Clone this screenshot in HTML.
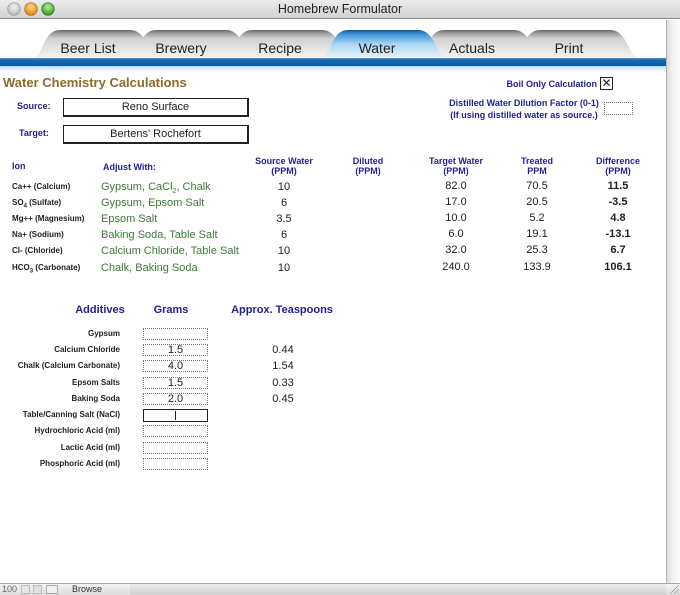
<!DOCTYPE html>
<html><head><meta charset="utf-8"><style>
*{margin:0;padding:0;box-sizing:border-box}
body{width:680px;height:595px;overflow:hidden;background:#fff;font-family:"Liberation Sans",Arial,sans-serif;position:relative}
.a{position:absolute;white-space:nowrap}
.c{text-align:center}
.r{text-align:right}
.nv{color:#23238f;font-weight:bold}
.h{font-size:9px;line-height:10px;color:#23238f;font-weight:bold;text-align:center;width:100px}
.ion{font-size:8px;line-height:10px;font-weight:bold;color:#222;left:12px}
.adj{font-size:11px;line-height:12px;color:#3d7a35;left:101px}
.num{font-size:11px;line-height:12px;color:#222;width:60px;text-align:center}
.b{font-weight:bold}
.lab{font-size:8px;line-height:10px;font-weight:bold;color:#222;width:120px;text-align:right;left:0}
.box{position:absolute;left:143px;width:65px;height:12px;border:1px dotted #777;font-size:11px;line-height:10px;text-align:center;color:#222}
.tsp{font-size:11px;line-height:12px;color:#222;left:253px;width:60px;text-align:center}
.sb{position:absolute;left:63px;width:186px;height:19px;border:1px solid #222;border-right-width:2px;border-bottom-width:2px;font-size:11px;line-height:16px;color:#222;text-align:center}
</style></head><body>

<!-- title bar -->
<div class="a" style="left:0;top:0;width:680px;height:19px;background:linear-gradient(#ececec,#d2d2d2);border-bottom:1px solid #8e8e8e"></div>
<svg class="a" style="left:0;top:0" width="70" height="19">
<defs>
<radialGradient id="g1" cx="50%" cy="35%" r="60%"><stop offset="0" stop-color="#f4f4f4"/><stop offset="1" stop-color="#b9b9b9"/></radialGradient>
<radialGradient id="g2" cx="50%" cy="35%" r="60%"><stop offset="0" stop-color="#ffd98a"/><stop offset="1" stop-color="#e08a10"/></radialGradient>
<radialGradient id="g3" cx="50%" cy="35%" r="60%"><stop offset="0" stop-color="#b8f09a"/><stop offset="1" stop-color="#3a9a20"/></radialGradient>
</defs>
<circle cx="14" cy="9" r="6.3" fill="url(#g1)" stroke="#9a9a9a" stroke-width="0.7"/>
<circle cx="31" cy="9" r="6.3" fill="url(#g2)" stroke="#a86a10" stroke-width="0.7"/>
<circle cx="48" cy="9" r="6.3" fill="url(#g3)" stroke="#3a7a20" stroke-width="0.7"/>
</svg>
<div class="a c" style="left:240px;top:2px;width:200px;font-size:12.5px;line-height:15px;color:#222">Homebrew Formulator</div>

<!-- right side -->
<div class="a" style="left:666px;top:20px;width:14px;height:563px;background:linear-gradient(90deg,#dcdcdc,#f2f2f2 40%,#fafafa);border-left:1px solid #b5b5b5"></div>

<!-- tabs -->
<svg class="a" style="left:0;top:20px" width="666" height="54">
<defs>
<linearGradient id="tg" x1="0" y1="0" x2="0" y2="1"><stop offset="0" stop-color="#666"/><stop offset="0.12" stop-color="#9e9e9e"/><stop offset="0.3" stop-color="#d0d0d0"/><stop offset="0.7" stop-color="#e6e6e6"/><stop offset="1" stop-color="#f4f4f4"/></linearGradient>
<linearGradient id="ta" x1="0" y1="0" x2="0" y2="1"><stop offset="0" stop-color="#154f92"/><stop offset="0.14" stop-color="#3a92d6"/><stop offset="0.5" stop-color="#a9d5f3"/><stop offset="1" stop-color="#e6f4fc"/></linearGradient>
<linearGradient id="bb" x1="0" y1="0" x2="0" y2="1"><stop offset="0" stop-color="#4f9fd8"/><stop offset="0.25" stop-color="#1767b0"/><stop offset="1" stop-color="#0c5aa0"/></linearGradient>
<linearGradient id="bf" x1="0" y1="0" x2="0" y2="1"><stop offset="0" stop-color="#b8dcf4"/><stop offset="1" stop-color="#ffffff"/></linearGradient>
</defs>
<path d="M512,38 C524,38 522,10 540,10 L610,10 C628,10 628,38 640,38 Z" fill="url(#tg)"/>
<path d="M416,38 C428,38 426,10 444,10 L514,10 C532,10 532,38 544,38 Z" fill="url(#tg)"/>
<path d="M224,38 C236,38 234,10 252,10 L322,10 C340,10 340,38 352,38 Z" fill="url(#tg)"/>
<path d="M128,38 C140,38 138,10 156,10 L226,10 C244,10 244,38 256,38 Z" fill="url(#tg)"/>
<path d="M32,38 C44,38 42,10 60,10 L130,10 C148,10 148,38 160,38 Z" fill="url(#tg)"/>
<path d="M320,38 C332,38 330,10 348,10 L418,10 C436,10 436,38 448,38 Z" fill="url(#ta)"/>
<rect x="0" y="38" width="666" height="8" fill="url(#bb)"/>
<rect x="0" y="46" width="666" height="6" fill="url(#bf)"/>
<g font-family="Liberation Sans, sans-serif" font-size="14" fill="#222" text-anchor="middle">
<text x="88" y="33">Beer List</text>
<text x="181" y="33">Brewery</text>
<text x="280" y="33">Recipe</text>
<text x="377" y="33">Water</text>
<text x="472" y="33">Actuals</text>
<text x="569" y="33">Print</text>
</g>
</svg>

<!-- heading -->
<div class="a b" style="left:3px;top:75px;font-size:13px;line-height:15px;color:#8c6a2a">Water Chemistry Calculations</div>

<div class="a nv" style="left:17px;top:101px;font-size:9px;line-height:10px">Source:</div>
<div class="sb" style="top:98px">Reno Surface</div>
<div class="a nv" style="left:19px;top:128px;font-size:9px;line-height:10px">Target:</div>
<div class="sb" style="top:125px">Bertens' Rochefort</div>

<div class="a nv r" style="left:447px;top:79px;width:150px;font-size:9px;line-height:10px">Boil Only Calculation</div>
<div class="a" style="left:600px;top:77px;width:13px;height:13px;border:1px solid #222;font-size:12px;line-height:11px;text-align:center;color:#222">&#x2715;</div>

<div class="a nv c" style="left:424px;top:98px;width:200px;font-size:9px;line-height:10px">Distilled Water Dilution Factor (0-1)</div>
<div class="a nv c" style="left:424px;top:110px;width:200px;font-size:9px;line-height:10px">(If using distilled water as source.)</div>
<div class="a" style="left:604px;top:102px;width:29px;height:13px;border:1px dotted #777"></div>

<!-- table headers -->
<div class="a nv" style="left:12px;top:161px;font-size:9px;line-height:10px">Ion</div>
<div class="a nv" style="left:103px;top:162px;font-size:9px;line-height:10px">Adjust With:</div>
<div class="a h" style="left:234px;top:156px">Source Water<br>(PPM)</div>
<div class="a h" style="left:318px;top:156px">Diluted<br>(PPM)</div>
<div class="a h" style="left:406px;top:156px">Target Water<br>(PPM)</div>
<div class="a h" style="left:487px;top:156px">Treated<br>PPM</div>
<div class="a h" style="left:568px;top:156px">Difference<br>(PPM)</div>

<!-- rows -->
<div class="a ion" style="top:182px">Ca++ (Calcium)</div>
<div class="a ion" style="top:198px">SO<sub style="font-size:6px">4</sub> (Sulfate)</div>
<div class="a ion" style="top:214px">Mg++ (Magnesium)</div>
<div class="a ion" style="top:230px">Na+ (Sodium)</div>
<div class="a ion" style="top:246px">Cl- (Chloride)</div>
<div class="a ion" style="top:263px">HCO<sub style="font-size:6px">3</sub> (Carbonate)</div>

<div class="a adj" style="top:181px">Gypsum, CaCl<sub style="font-size:7px">2</sub>, Chalk</div>
<div class="a adj" style="top:197px">Gypsum, Epsom Salt</div>
<div class="a adj" style="top:213px">Epsom Salt</div>
<div class="a adj" style="top:229px">Baking Soda, Table Salt</div>
<div class="a adj" style="top:245px">Calcium Chloride, Table Salt</div>
<div class="a adj" style="top:262px">Chalk, Baking Soda</div>

<div class="a num" style="left:254px;top:181px">10</div>
<div class="a num" style="left:254px;top:197px">6</div>
<div class="a num" style="left:254px;top:213px">3.5</div>
<div class="a num" style="left:254px;top:229px">6</div>
<div class="a num" style="left:254px;top:245px">10</div>
<div class="a num" style="left:254px;top:262px">10</div>

<div class="a num" style="left:426px;top:180px">82.0</div>
<div class="a num" style="left:426px;top:196px">17.0</div>
<div class="a num" style="left:426px;top:212px">10.0</div>
<div class="a num" style="left:426px;top:228px">6.0</div>
<div class="a num" style="left:426px;top:244px">32.0</div>
<div class="a num" style="left:426px;top:261px">240.0</div>

<div class="a num" style="left:507px;top:180px">70.5</div>
<div class="a num" style="left:507px;top:196px">20.5</div>
<div class="a num" style="left:507px;top:212px">5.2</div>
<div class="a num" style="left:507px;top:228px">19.1</div>
<div class="a num" style="left:507px;top:244px">25.3</div>
<div class="a num" style="left:507px;top:261px">133.9</div>

<div class="a num b" style="left:588px;top:180px">11.5</div>
<div class="a num b" style="left:588px;top:196px">-3.5</div>
<div class="a num b" style="left:588px;top:212px">4.8</div>
<div class="a num b" style="left:588px;top:228px">-13.1</div>
<div class="a num b" style="left:588px;top:244px">6.7</div>
<div class="a num b" style="left:588px;top:261px">106.1</div>

<!-- additives -->
<div class="a nv c" style="left:50px;top:304px;width:100px;font-size:11px;line-height:12px">Additives</div>
<div class="a nv c" style="left:121px;top:304px;width:100px;font-size:11px;line-height:12px">Grams</div>
<div class="a nv c" style="left:222px;top:304px;width:120px;font-size:11px;line-height:12px">Approx. Teaspoons</div>

<div class="a lab" style="top:329px">Gypsum</div>
<div class="a lab" style="top:345px">Calcium Chloride</div>
<div class="a lab" style="top:361px">Chalk (Calcium Carbonate)</div>
<div class="a lab" style="top:378px">Epsom Salts</div>
<div class="a lab" style="top:394px">Baking Soda</div>
<div class="a lab" style="top:410px">Table/Canning Salt (NaCl)</div>
<div class="a lab" style="top:426px">Hydrochloric Acid (ml)</div>
<div class="a lab" style="top:443px">Lactic Acid (ml)</div>
<div class="a lab" style="top:459px">Phosphoric Acid (ml)</div>

<div class="box" style="top:328px"></div>
<div class="box" style="top:344px">1.5</div>
<div class="box" style="top:360px">4.0</div>
<div class="box" style="top:377px">1.5</div>
<div class="box" style="top:393px">2.0</div>
<div class="box" style="top:409px;border:1px solid #222;height:13px"><span style="display:inline-block;width:1px;height:9px;background:#222;margin-top:1px"></span></div>
<div class="box" style="top:425px"></div>
<div class="box" style="top:442px"></div>
<div class="box" style="top:458px"></div>

<div class="a tsp" style="top:344px">0.44</div>
<div class="a tsp" style="top:360px">1.54</div>
<div class="a tsp" style="top:377px">0.33</div>
<div class="a tsp" style="top:393px">0.45</div>

<!-- status bar -->
<div class="a" style="left:0;top:583px;width:680px;height:12px;background:linear-gradient(#f4f4f4,#dcdcdc);border-top:1px solid #a8a8a8"></div>
<div class="a" style="left:130px;top:584px;width:536px;height:11px;background:linear-gradient(#ececec,#cfcfcf)"></div>
<div class="a" style="left:2px;top:584px;font-size:9px;line-height:11px;color:#666">100</div>
<div class="a" style="left:21px;top:585px;width:9px;height:9px;border:1px solid #bbb;background:#e6e6e6"></div>
<div class="a" style="left:33px;top:585px;width:9px;height:9px;border:1px solid #bbb;background:#e0e0e0"></div>
<div class="a" style="left:46px;top:585px;width:12px;height:9px;border:1px solid #aaa;background:#f0f0f0"></div>
<div class="a" style="left:72px;top:584px;font-size:9px;line-height:11px;color:#333">Browse</div>
<svg class="a" style="left:668px;top:583px" width="12" height="12"><path d="M2,11 L11,2 M6,11 L11,6 M10,11 L11,10" stroke="#999" stroke-width="0.8"/></svg>

</body></html>
